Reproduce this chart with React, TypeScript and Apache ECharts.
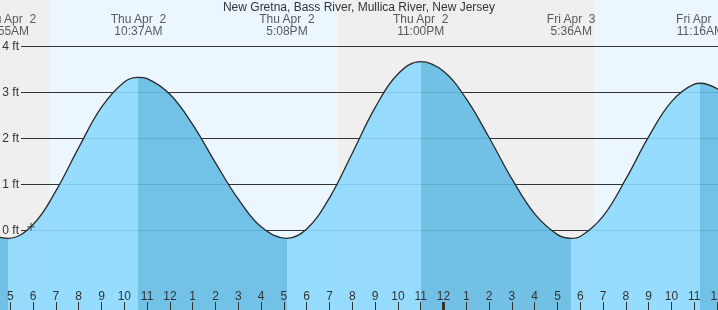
import React, { useEffect, useRef } from "react";
import * as echarts from "echarts";

// Time is in hours after midnight, Thu Apr 2.
const viewStart = 4.548;
const viewEnd = 36.039;

const tideTimes = [4.548, 4.917, 6, 7, 8, 9, 10, 10.617, 11, 12, 13, 14, 15, 16, 17.133, 18, 19, 20, 21, 22, 23, 24, 25, 26, 27, 28, 29, 29.6, 30, 31, 32, 33, 34, 35, 35.267, 36.039];
const tideHeights = [-0.16, -0.18, 0.12, 0.85, 1.79, 2.67, 3.22, 3.32, 3.29, 2.95, 2.29, 1.46, 0.67, 0.07, -0.18, 0.02, 0.7, 1.67, 2.66, 3.39, 3.66, 3.45, 2.85, 2.01, 1.11, 0.35, -0.1, -0.18, -0.14, 0.3, 1.11, 2.03, 2.79, 3.17, 3.19, 3.06];

const extremeTimes = [4.917, 10.617, 17.133, 23.0, 29.6, 35.267];
const extremeKinds = ["low", "high", "low", "high", "low", "high"];
const extremeDays = ["Thu Apr  2", "Thu Apr  2", "Thu Apr  2", "Thu Apr  2", "Fri Apr  3", "Fri Apr  3"];
const extremeClock = ["4:55AM", "10:37AM", "5:08PM", "11:00PM", "5:36AM", "11:16AM"];

const sunrises = [6.711, 30.63];
const sunsets = [19.36, 43.38];

const hourTicks = [5, 6, 7, 8, 9, 10, 11, 12, 13, 14, 15, 16, 17, 18, 19, 20, 21, 22, 23, 24, 25, 26, 27, 28, 29, 30, 31, 32, 33, 34, 35, 36];
const midnightTicks = [24];
const feetTicks = [0, 1, 2, 3, 4];

const nowTime = 5.908;
const nowHeight = 0.07;

const title = "New Gretna, Bass River, Mullica River, New Jersey";

const FONT = "'Liberation Sans', Arial, sans-serif";
const TEXT = "#333333";
const RISING = "#8cd9fe";
const FALLING = "#65bbe4";

export default function App() {
  const ref = useRef<HTMLDivElement>(null);

  useEffect(() => {
    if (!ref.current) return;
    const chart = echarts.init(ref.current, undefined, { renderer: "svg" });

    const span = viewEnd - viewStart;
    const stops: { offset: number; color: string }[] = [];
    let current = extremeKinds[0] === "low" ? FALLING : RISING;
    stops.push({ offset: 0, color: current });
    extremeTimes.forEach((t, i) => {
      const o = Math.min(1, Math.max(0, (t - viewStart) / span));
      stops.push({ offset: o, color: current });
      current = extremeKinds[i] === "low" ? RISING : FALLING;
      stops.push({ offset: o, color: current });
    });
    stops.push({ offset: 1, color: current });

    const dayAreas = sunrises.map((s, i) => [
      { xAxis: s },
      { xAxis: Math.min(sunsets[i], viewEnd) },
    ]);

    const labelY = 4.452;

    chart.setOption({
      animation: false,
      textStyle: { fontFamily: FONT },
      title: {
        text: title,
        left: "center",
        top: 1,
        padding: 0,
        textStyle: { fontSize: 12, fontWeight: "normal", color: TEXT, fontFamily: FONT },
      },
      grid: [
        {
          left: 0, right: 0, top: 0, bottom: 0,
          show: true, backgroundColor: "#efefef", borderWidth: 0,
          outerBoundsMode: "none", containLabel: false,
        },
        {
          left: 21, right: 0, top: 46, bottom: 80,
          outerBoundsMode: "none", containLabel: false,
        },
      ],
      xAxis: [
        {
          type: "value",
          gridIndex: 0,
          min: viewStart,
          max: viewEnd,
          position: "bottom",
          z: 6,
          axisLine: { show: false, onZero: false },
          splitLine: { show: false },
          axisTick: {
            show: true,
            inside: true,
            length: 8,
            customValues: hourTicks,
            lineStyle: { color: TEXT, width: 1 },
          },
          axisLabel: {
            show: true,
            inside: true,
            margin: 8,
            customValues: hourTicks,
            fontSize: 12,
            color: TEXT,
            fontFamily: FONT,
            formatter: (v: number) => {
              const h = Math.round(v) % 12;
              return String(h === 0 ? 12 : h);
            },
          },
        },
        {
          type: "value",
          gridIndex: 0,
          min: viewStart,
          max: viewEnd,
          position: "bottom",
          z: 6,
          axisLine: { show: false, onZero: false },
          splitLine: { show: false },
          axisLabel: { show: false },
          axisTick: {
            show: true,
            inside: true,
            length: 8,
            customValues: midnightTicks,
            lineStyle: { color: TEXT, width: 3 },
          },
        },
        { type: "value", gridIndex: 1, min: 0, max: 1, show: false, axisLine: { onZero: false } },
      ],
      yAxis: [
        { type: "value", gridIndex: 0, min: -80 / 46, max: 5, show: false, axisLine: { onZero: false } },
        {
          type: "value",
          gridIndex: 1,
          min: feetTicks[0],
          max: feetTicks[feetTicks.length - 1],
          interval: 1,
          z: 3,
          axisLine: { show: false, onZero: false },
          axisTick: { show: false },
          axisLabel: {
            margin: 2,
            fontSize: 12,
            color: TEXT,
            fontFamily: FONT,
            formatter: "{value} ft",
          },
          splitLine: { show: true, lineStyle: { color: TEXT, width: 1 } },
        },
      ],
      series: [
        {
          type: "line",
          xAxisIndex: 0,
          yAxisIndex: 0,
          data: [],
          silent: true,
          z: 2,
          markArea: {
            silent: true,
            itemStyle: { color: "#ebf6ff" },
            data: dayAreas,
          },
        },
        {
          type: "line",
          xAxisIndex: 0,
          yAxisIndex: 0,
          z: 4,
          silent: true,
          smooth: 0.4,
          showSymbol: false,
          data: tideTimes.map((t, i) => [t, tideHeights[i]]),
          lineStyle: { color: "#2a2a2a", width: 1.3 },
          areaStyle: {
            origin: "start",
            opacity: 0.9,
            color: new echarts.graphic.LinearGradient(0, 0, 1, 0, stops),
          },
        },
        {
          type: "scatter",
          xAxisIndex: 0,
          yAxisIndex: 0,
          z: 5,
          silent: true,
          symbolSize: 1,
          itemStyle: { color: "rgba(0,0,0,0)" },
          data: extremeTimes.map((t) => [t, labelY]),
          label: {
            show: true,
            position: "inside",
            align: "center",
            verticalAlign: "middle",
            fontSize: 12,
            lineHeight: 12,
            color: TEXT,
            fontFamily: FONT,
            formatter: (p: any) => extremeDays[p.dataIndex] + "\n" + extremeClock[p.dataIndex],
          },
        },
        {
          type: "scatter",
          xAxisIndex: 0,
          yAxisIndex: 0,
          z: 5,
          silent: true,
          symbol: "path://M0,3 L7,3 L7,4 L0,4 Z M3,0 L4,0 L4,7 L3,7 Z",
          symbolSize: 8,
          itemStyle: { color: "#333333" },
          data: [[nowTime, nowHeight]],
        },
      ],
    });

    return () => chart.dispose();
  }, []);

  return (
    <div
      ref={ref}
      style={{ position: "fixed", left: 0, top: 0, width: 718, height: 310 }}
    />
  );
}
